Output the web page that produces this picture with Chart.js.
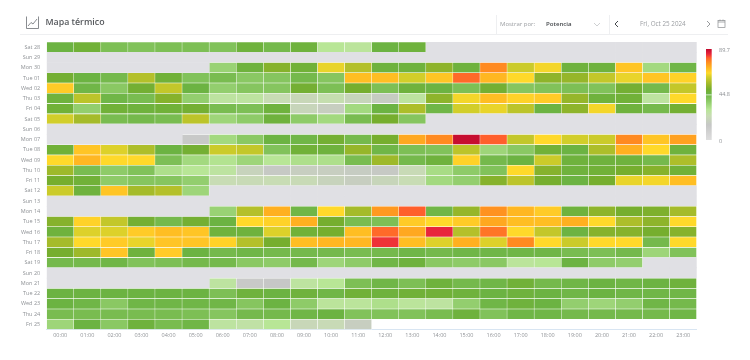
<!DOCTYPE html>
<html lang="es">
<head>
<meta charset="utf-8">
<title>Mapa térmico</title>
<script src="https://cdn.jsdelivr.net/npm/chart.js@4"></script>
<style>
  html, body { margin: 0; padding: 0; background: #fff; }
  body { width: 750px; height: 360px; position: relative; overflow: hidden; font-family: "Open Sans", sans-serif; }
  #chart-wrap { position: absolute; left: 0; top: 0; width: 750px; height: 360px; }
  .txt { position: absolute; white-space: nowrap; line-height: 1; }
  .rule { position: absolute; background: #eeeff1; }
  svg { position: absolute; }
</style>
</head>
<body>
<div id="chart-wrap"><canvas id="heatmap"></canvas></div>

<svg style="left:25px;top:15px" width="15" height="15" viewBox="0 0 15 15" fill="none" stroke="#6b6f73" stroke-width="0.8">
  <path d="M1.5 1.5v12h12v-12"/>
  <path d="M3 11l3-3.5 2 1.5 4-5"/>
</svg>
<div class="txt" style="left:45.5px;top:18px;font-size:8.8px;font-weight:600;color:#55585c">Mapa térmico</div>
<div class="rule" style="left:20px;top:34px;width:708px;height:1px"></div>

<div class="rule" style="left:495.5px;top:15px;width:1px;height:19px"></div>
<div class="rule" style="left:609px;top:15px;width:1px;height:19px"></div>
<div class="txt" style="left:500px;top:21px;font-size:6px;color:#9a9da1">Mostrar por:</div>
<div class="txt" style="left:546px;top:21px;font-size:6.1px;font-weight:600;color:#44474b">Potencia</div>
<svg style="left:593px;top:22px" width="8" height="5" viewBox="0 0 8 5" fill="none" stroke="#c2c4c7" stroke-width="0.8"><path d="M1 1l3 3 3-3"/></svg>
<svg style="left:614px;top:20px" width="5" height="8" viewBox="0 0 5 8" fill="none" stroke="#44474b" stroke-width="1"><path d="M4 1L1 4l3 3"/></svg>
<div class="txt" style="left:640px;top:21px;font-size:6.3px;color:#9a9da1">Fri, Oct 25 2024</div>
<svg style="left:706px;top:20px" width="5" height="8" viewBox="0 0 5 8" fill="none" stroke="#7d8084" stroke-width="0.8"><path d="M1 1l3 3-3 3"/></svg>
<svg style="left:717px;top:19px" width="9" height="9" viewBox="0 0 9 9" fill="none" stroke="#8a8d91" stroke-width="0.7"><rect x="1" y="1.5" width="7" height="7"/><path d="M1 3h7M3 0.5v1.5M6 0.5v1.5"/></svg>

<script>
// Heat map of power per hour, one row per day.
const days = ["Sat 28", "Sun 29", "Mon 30", "Tue 01", "Wed 02", "Thu 03", "Fri 04", "Sat 05", "Sun 06", "Mon 07",
  "Tue 08", "Wed 09", "Thu 10", "Fri 11", "Sat 12", "Sun 13", "Mon 14", "Tue 15", "Wed 16", "Thu 17",
  "Fri 18", "Sat 19", "Sun 20", "Mon 21", "Tue 22", "Wed 23", "Thu 24", "Fri 25"];
const hours = ["00:00", "01:00", "02:00", "03:00", "04:00", "05:00", "06:00", "07:00", "08:00", "09:00", "10:00", "11:00",
  "12:00", "13:00", "14:00", "15:00", "16:00", "17:00", "18:00", "19:00", "20:00", "21:00", "22:00", "23:00"];

// null = hour with no reading (grey cell), a short row = hours still to come (nothing drawn)
const _ = null;
const sat28 = [46, 48, 42, 41, 42, 42, 41, 47, 44, 47, 30, 29, 46, 47, _, _, _, _, _, _, _, _, _, _];
const sun29 = [_, _, _, _, _, _, _, _, _, _, _, _, _, _, _, _, _, _, _, _, _, _, _, _];
const mon30 = [_, _, _, _, _, _, 36, 47, 52, 48, 64, 58, 47, 47, 53, 47, 77, 61, 65, 47, 47, 69, 34, 45];
const tue01 = [49, 46, 44, 58, 48, 41, 43, 39, 40, 44, 40, 70, 70, 62, 69, 80, 71, 66, 53, 54, 60, 64, 69, 67];
const wed02 = [68, 45, 39, 49, 60, 46, 37, 40, 40, 49, 42, 50, 42, 47, 46, 42, 49, 40, 41, 42, 41, 49, 44, 60];
const thu03 = [47, 59, 45, 43, 52, 37, 28, 28, 24, 22, 25, 21, 17, 28, 53, 65, 70, 67, 68, 54, 47, 48, 28, 66];
const fri04 = [48, 37, 48, 47, 48, 49, 43, 42, 47, 21, 18, 34, 46, 57, 45, 62, 64, 59, 46, 53, 65, 47, 44, 49];
const sat05 = [62, 56, 43, 44, 43, 59, 35, 38, 47, 38, 34, 43, 50, 40, _, _, _, _, _, _, _, _, _, _];
const sun06 = [_, _, _, _, _, _, _, _, _, _, _, _, _, _, _, _, _, _, _, _, _, _, _, _];
const mon07 = [_, _, _, _, _, 14, 34, 39, 46, 45, 49, 44, 50, 73, 77, 89, 81, 60, 66, 62, 61, 77, 69, 74];
const tue08 = [48, 69, 63, 57, 46, 49, 61, 60, 41, 48, 47, 54, 45, 42, 41, 59, 35, 39, 48, 46, 57, 72, 66, 47];
const wed09 = [66, 71, 66, 66, 42, 34, 31, 35, 30, 32, 32, 43, 55, 44, 47, 67, 44, 46, 61, 47, 47, 47, 44, 57];
const thu10 = [55, 43, 38, 41, 32, 30, 28, 20, 16, 18, 18, 17, 16, 23, 33, 38, 41, 66, 52, 47, 48, 50, 52, 48];
const fri11 = [50, 48, 38, 40, 40, 37, 24, 23, 24, 23, 20, 18, 21, 24, 34, 37, 52, 59, 50, 46, 50, 64, 65, 70];
const sat12 = [61, 47, 69, 56, 58, 35, _, _, _, _, _, _, _, _, _, _, _, _, _, _, _, _, _, _];
const sun13 = [_, _, _, _, _, _, _, _, _, _, _, _, _, _, _, _, _, _, _, _, _, _, _, _];
const mon14 = [_, _, _, _, _, _, 36, 58, 72, 45, 66, 56, 75, 81, 45, 54, 76, 71, 68, 47, 53, 50, 51, 56];
const tue15 = [52, 67, 60, 49, 44, 49, 46, 66, 67, 72, 50, 43, 42, 68, 66, 68, 73, 70, 70, 72, 66, 57, 53, 66];
const wed16 = [47, 63, 63, 68, 70, 69, 47, 47, 63, 48, 50, 70, 80, 73, 85, 58, 79, 66, 60, 46, 52, 52, 50, 52];
const thu17 = [56, 66, 68, 64, 69, 69, 67, 58, 50, 70, 71, 71, 84, 70, 63, 72, 63, 77, 66, 61, 66, 66, 44, 66];
const fri18 = [50, 55, 69, 47, 68, 46, 44, 45, 44, 44, 44, 43, 44, 45, 44, 45, 45, 45, 45, 43, 42, 44, 35, 41];
const sat19 = [44, 44, 45, 41, 42, 44, 44, 39, 38, 44, 35, 38, 45, 47, 39, 38, 39, 29, 30, 46, 38, 37, _, _];
const sun20 = [_, _, _, _, _, _, _, _, _, _, _, _, _, _, _, _, _, _, _, _, _, _, _, _];
const mon21 = [_, _, _, _, _, _, 28, 14, 15, 28, 30, 42, 45, 42, 47, 44, 45, 48, 44, 45, 46, 45, 46, 47];
const tue22 = [46, 46, 46, 46, 46, 46, 42, 47, 46, 47, 45, 48, 47, 48, 48, 47, 46, 47, 46, 45, 46, 45, 45, 45];
const wed23 = [46, 45, 39, 45, 45, 45, 45, 40, 46, 38, 29, 29, 32, 29, 28, 37, 45, 47, 46, 37, 35, 37, 45, 44];
const thu24 = [43, 43, 43, 43, 43, 42, 40, 44, 44, 45, 46, 41, 41, 41, 43, 47, 41, 45, 45, 44, 44, 44, 44, 45];
const fri25 = [35, 46, 39, 47, 43, 45, 28, 27, 30, 22, 23, 18];

const rows = [sat28, sun29, mon30, tue01, wed02, thu03, fri04, sat05, sun06, mon07, tue08, wed09, thu10, fri11,
  sat12, sun13, mon14, tue15, wed16, thu17, fri18, sat19, sun20, mon21, tue22, wed23, thu24, fri25];

// colour scale of the legend bar
const scaleMax = 89.7;
const scaleMid = 44.8;
const stopValues = [0, 15, 24, 30, 38, 46, 50, 54, 58, 62, 66, 72, 77, 81, 85, 89.7];
const stopColors = ["#dedede", "#c6c7c6", "#c8dcb4", "#b8e696", "#8ecb68", "#6cb342", "#76ae2e", "#96b62a", "#b4c02a",
  "#d2ce2a", "#ffd92a", "#ffb020", "#ff8a20", "#ff5f2c", "#e8243c", "#c00a2e"];
const noDataColor = "#e0e0e4";

function hexToRgb(hex) {
  return [1, 3, 5].map(i => parseInt(hex.slice(i, i + 2), 16));
}

function valueColor(v) {
  if (v === null) return noDataColor;
  let i = 0;
  while (i < stopValues.length - 2 && v > stopValues[i + 1]) i++;
  const t = Math.min(1, (v - stopValues[i]) / (stopValues[i + 1] - stopValues[i]));
  const a = hexToRgb(stopColors[i]);
  const b = hexToRgb(stopColors[i + 1]);
  return "rgb(" + a.map((c, k) => Math.round(c + (b[k] - c) * t)).join(",") + ")";
}

// one stacked dataset per hour, each cell is one unit wide
const hourDatasets = hours.map((hour, h) => ({
  label: hour,
  data: days.map((day, r) => ({ y: day, x: h < rows[r].length ? 1 : 0, v: rows[r][h] })),
  backgroundColor: ctx => ctx.raw.v === undefined ? "transparent" : valueColor(ctx.raw.v),
  borderColor: "rgba(255,255,255,0.75)",
  borderWidth: ctx => (ctx.raw.v === null || ctx.raw.v === undefined) ? 0 : 0.6,
  barPercentage: 1,
  categoryPercentage: 1
}));

// legend bar next to the plot, with its three labels
const colorBar = {
  id: "colorBar",
  afterDraw(chart) {
    const c = chart.ctx;
    const left = 706, width = 5.7, top = 49, bottom = 140;
    const grad = c.createLinearGradient(0, bottom, 0, top);
    stopValues.forEach((v, i) => grad.addColorStop(v / scaleMax, stopColors[i]));
    c.save();
    c.fillStyle = grad;
    c.fillRect(left, top, width, bottom - top);
    const midY = bottom - (scaleMid / scaleMax) * (bottom - top);
    c.fillStyle = "#fff";
    c.fillRect(left, midY, width, 0.7);
    c.fillStyle = "#8b8e92";
    c.font = "5.5px 'Open Sans'";
    c.textBaseline = "middle";
    c.fillText(String(scaleMax), 719, top + 1);
    c.fillText(String(scaleMid), 719, midY);
    c.fillText("0", 719, bottom + 1);
    c.restore();
  }
};

new Chart(document.getElementById("heatmap"), {
  type: "bar",
  data: { labels: days, datasets: hourDatasets },
  plugins: [colorBar],
  options: {
    indexAxis: "y",
    responsive: true,
    maintainAspectRatio: false,
    animation: false,
    layout: { padding: { top: 42, right: 53.3, left: 0, bottom: 0 } },
    plugins: { legend: { display: false }, tooltip: { enabled: false } },
    scales: {
      x: {
        type: "linear",
        stacked: true,
        min: 0,
        max: 24,
        afterBuildTicks: scale => { scale.ticks = hours.map((hour, h) => ({ value: h + 0.5 })); },
        afterFit: scale => { scale.height = 30.5; },
        grid: { display: false, tickLength: 0 },
        border: { display: true, color: "#d8e5f2", width: 1 },
        ticks: {
          callback: (value, index) => hours[index],
          autoSkip: false,
          maxRotation: 0,
          padding: 3,
          color: "#8f9296",
          font: { family: "Open Sans", size: 5.5 }
        }
      },
      y: {
        type: "category",
        stacked: true,
        afterFit: scale => { scale.width = 46.7; },
        grid: { display: false, tickLength: 0 },
        border: { display: false },
        ticks: {
          autoSkip: false,
          padding: 6.5,
          color: "#8f9296",
          font: { family: "Open Sans", size: 5.5 }
        }
      }
    }
  }
});
</script>
</body>
</html>
